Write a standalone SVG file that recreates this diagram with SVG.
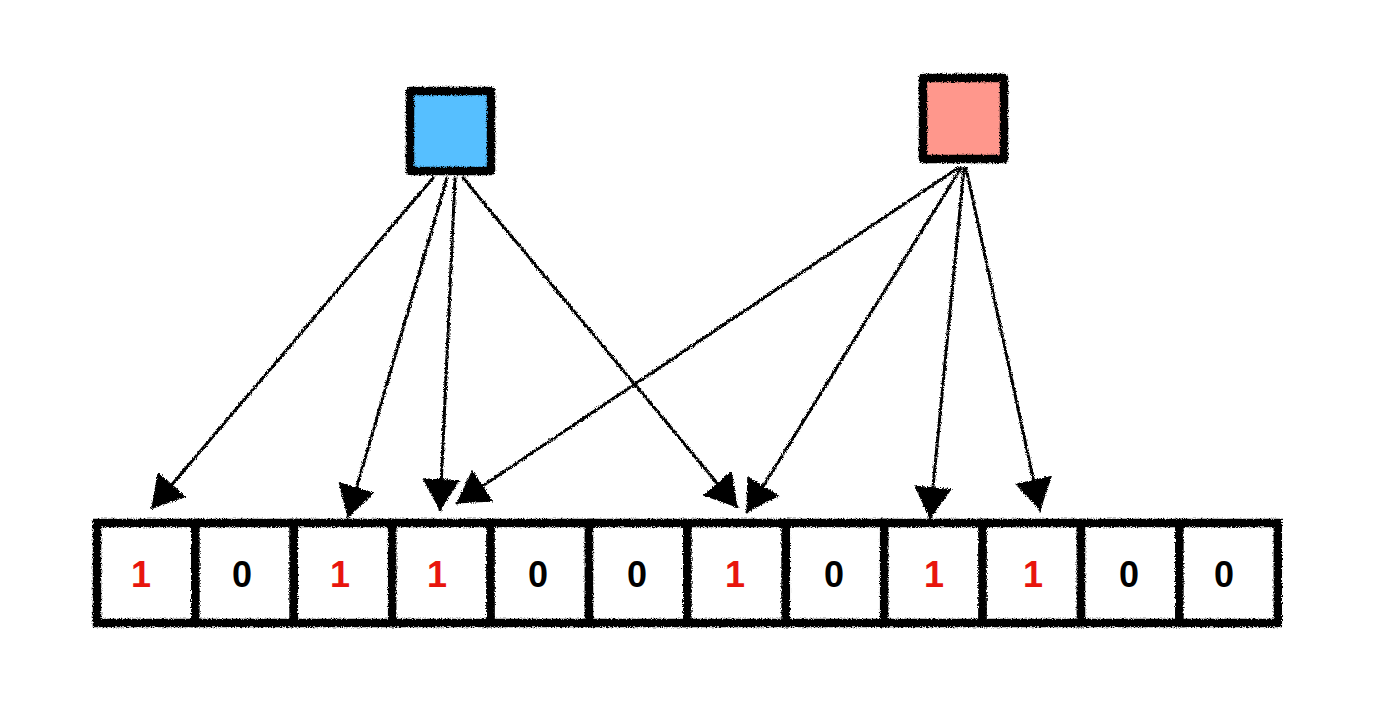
<svg xmlns="http://www.w3.org/2000/svg" width="1400" height="710" viewBox="0 0 1400 710">
<style>
.box{stroke:#000;stroke-width:8.5;stroke-linejoin:round}
.cell{fill:#fff;stroke:#000;stroke-width:8.5}
.edge{stroke:#000;stroke-width:3;fill:none;stroke-linecap:round}
.t{font-family:"Liberation Sans",Arial,sans-serif;font-weight:bold;font-size:36px;text-anchor:middle}
.one{fill:#E8150D}
.zero{fill:#000}
</style>
<defs>
<filter id="rough" filterUnits="userSpaceOnUse" x="0" y="0" width="1400" height="710">
<feTurbulence type="fractalNoise" baseFrequency="0.8" numOctaves="2" seed="3" result="n"/>
<feDisplacementMap in="SourceGraphic" in2="n" scale="4" xChannelSelector="R" yChannelSelector="G"/>
</filter>
<marker id="ah" viewBox="0 0 32 38" refX="31" refY="19" markerWidth="32" markerHeight="38" markerUnits="userSpaceOnUse" orient="auto">
<path d="M0,0 L32,19 L0,38 Z" fill="#000"/>
</marker>
</defs>
<rect width="1400" height="710" fill="#fff"/>
<g id="blue" filter="url(#rough)"><rect class="box" x="410" y="91" width="81" height="80" fill="#56BFFF"/></g>
<g id="red" filter="url(#rough)"><rect class="box" x="923" y="78" width="81" height="81" fill="#FF978C"/></g>
<g id="connectors" filter="url(#rough)">
<line class="edge" x1="433" y1="178" x2="152" y2="508" marker-end="url(#ah)"/>
<line class="edge" x1="447" y1="178" x2="348" y2="517" marker-end="url(#ah)"/>
<line class="edge" x1="455" y1="178" x2="440" y2="510" marker-end="url(#ah)"/>
<line class="edge" x1="463" y1="178" x2="737" y2="507" marker-end="url(#ah)"/>
<line class="edge" x1="958" y1="168" x2="457" y2="503" marker-end="url(#ah)"/>
<line class="edge" x1="961" y1="168" x2="747" y2="512" marker-end="url(#ah)"/>
<line class="edge" x1="964" y1="168" x2="930" y2="518" marker-end="url(#ah)"/>
<line class="edge" x1="966" y1="168" x2="1040" y2="510" marker-end="url(#ah)"/>
</g>
<g id="cells">
<g id="cell0"><rect class="cell" x="97" y="523" width="98.4" height="100" filter="url(#rough)"/><text class="t one" x="141" y="587">1</text></g>
<g id="cell1"><rect class="cell" x="195.4" y="523" width="98.4" height="100" filter="url(#rough)"/><text class="t zero" x="242" y="587">0</text></g>
<g id="cell2"><rect class="cell" x="293.8" y="523" width="98.4" height="100" filter="url(#rough)"/><text class="t one" x="340" y="587">1</text></g>
<g id="cell3"><rect class="cell" x="392.2" y="523" width="98.4" height="100" filter="url(#rough)"/><text class="t one" x="437" y="587">1</text></g>
<g id="cell4"><rect class="cell" x="490.6" y="523" width="98.4" height="100" filter="url(#rough)"/><text class="t zero" x="538" y="587">0</text></g>
<g id="cell5"><rect class="cell" x="589" y="523" width="98.4" height="100" filter="url(#rough)"/><text class="t zero" x="637" y="587">0</text></g>
<g id="cell6"><rect class="cell" x="687.4" y="523" width="98.4" height="100" filter="url(#rough)"/><text class="t one" x="735" y="587">1</text></g>
<g id="cell7"><rect class="cell" x="785.8" y="523" width="98.4" height="100" filter="url(#rough)"/><text class="t zero" x="834" y="587">0</text></g>
<g id="cell8"><rect class="cell" x="884.2" y="523" width="98.4" height="100" filter="url(#rough)"/><text class="t one" x="934" y="587">1</text></g>
<g id="cell9"><rect class="cell" x="982.6" y="523" width="98.4" height="100" filter="url(#rough)"/><text class="t one" x="1033" y="587">1</text></g>
<g id="cell10"><rect class="cell" x="1081" y="523" width="98.4" height="100" filter="url(#rough)"/><text class="t zero" x="1129" y="587">0</text></g>
<g id="cell11"><rect class="cell" x="1179.4" y="523" width="98.4" height="100" filter="url(#rough)"/><text class="t zero" x="1224" y="587">0</text></g>
</g>
</svg>
